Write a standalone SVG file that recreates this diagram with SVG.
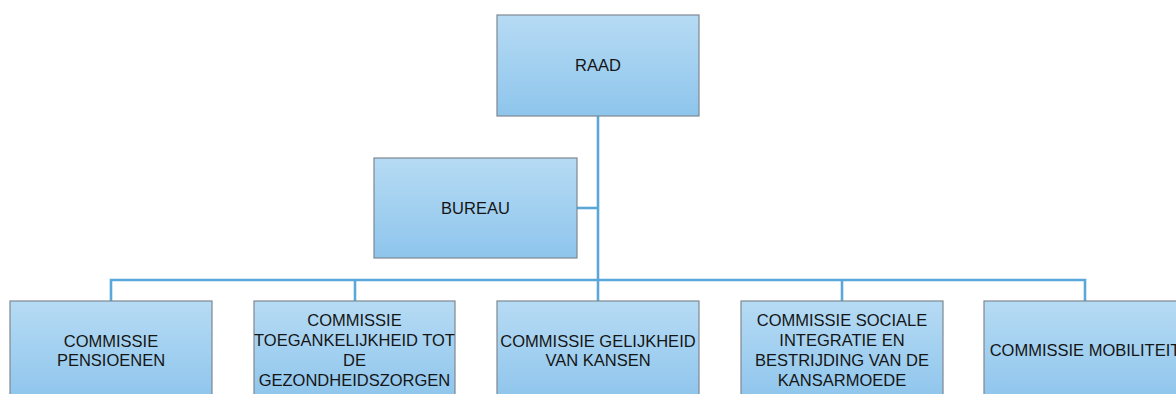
<svg xmlns="http://www.w3.org/2000/svg" width="1176" height="394" viewBox="0 0 1176 394">
<defs>
<linearGradient id="g" x1="0" y1="0" x2="0" y2="1">
<stop offset="0" stop-color="#b6dbf4"/>
<stop offset="1" stop-color="#8ec5ec"/>
</linearGradient>
<style>
.box{fill:url(#g);stroke:#7d8791;stroke-width:1.2}
.t{font-family:"Liberation Sans",Arial,sans-serif;font-size:16.5px;fill:#151515;text-anchor:middle}
.c{fill:none;stroke:#5aa7d9;stroke-width:2.6}
</style>
</defs>
<rect width="1176" height="394" fill="#ffffff"/>
<g id="connectors">
<path class="c" d="M598 116V280"/>
<path class="c" d="M577 208H598"/>
<path class="c" d="M111 301V280H1085V301"/>
<path class="c" d="M355 280V301"/>
<path class="c" d="M598 280V301"/>
<path class="c" d="M842 280V301"/>
</g>
<g id="raad">
<rect class="box" x="497" y="15" width="202" height="101"/>
<text class="t" x="598" y="71">RAAD</text>
</g>
<g id="bureau">
<rect class="box" x="374" y="158" width="203" height="100"/>
<text class="t" x="475.5" y="214">BUREAU</text>
</g>
<g id="pensioenen">
<rect class="box" x="10" y="301" width="202" height="100"/>
<text class="t" x="111" y="347">COMMISSIE</text>
<text class="t" x="111" y="366">PENSIOENEN</text>
</g>
<g id="toegankelijkheid">
<rect class="box" x="254" y="301" width="201" height="100"/>
<text class="t" x="354.5" y="326">COMMISSIE</text>
<text class="t" x="354.5" y="346">TOEGANKELIJKHEID TOT</text>
<text class="t" x="354.5" y="366">DE</text>
<text class="t" x="354.5" y="386">GEZONDHEIDSZORGEN</text>
</g>
<g id="gelijkheid">
<rect class="box" x="497" y="301" width="202" height="100"/>
<text class="t" x="598" y="347">COMMISSIE GELIJKHEID</text>
<text class="t" x="598" y="366">VAN KANSEN</text>
</g>
<g id="sociale">
<rect class="box" x="741" y="301" width="202" height="100"/>
<text class="t" x="842" y="326">COMMISSIE SOCIALE</text>
<text class="t" x="842" y="346">INTEGRATIE EN</text>
<text class="t" x="842" y="366">BESTRIJDING VAN DE</text>
<text class="t" x="842" y="386">KANSARMOEDE</text>
</g>
<g id="mobiliteit">
<rect class="box" x="984" y="301" width="202" height="100"/>
<text class="t" x="1085" y="356">COMMISSIE MOBILITEIT</text>
</g>
</svg>
